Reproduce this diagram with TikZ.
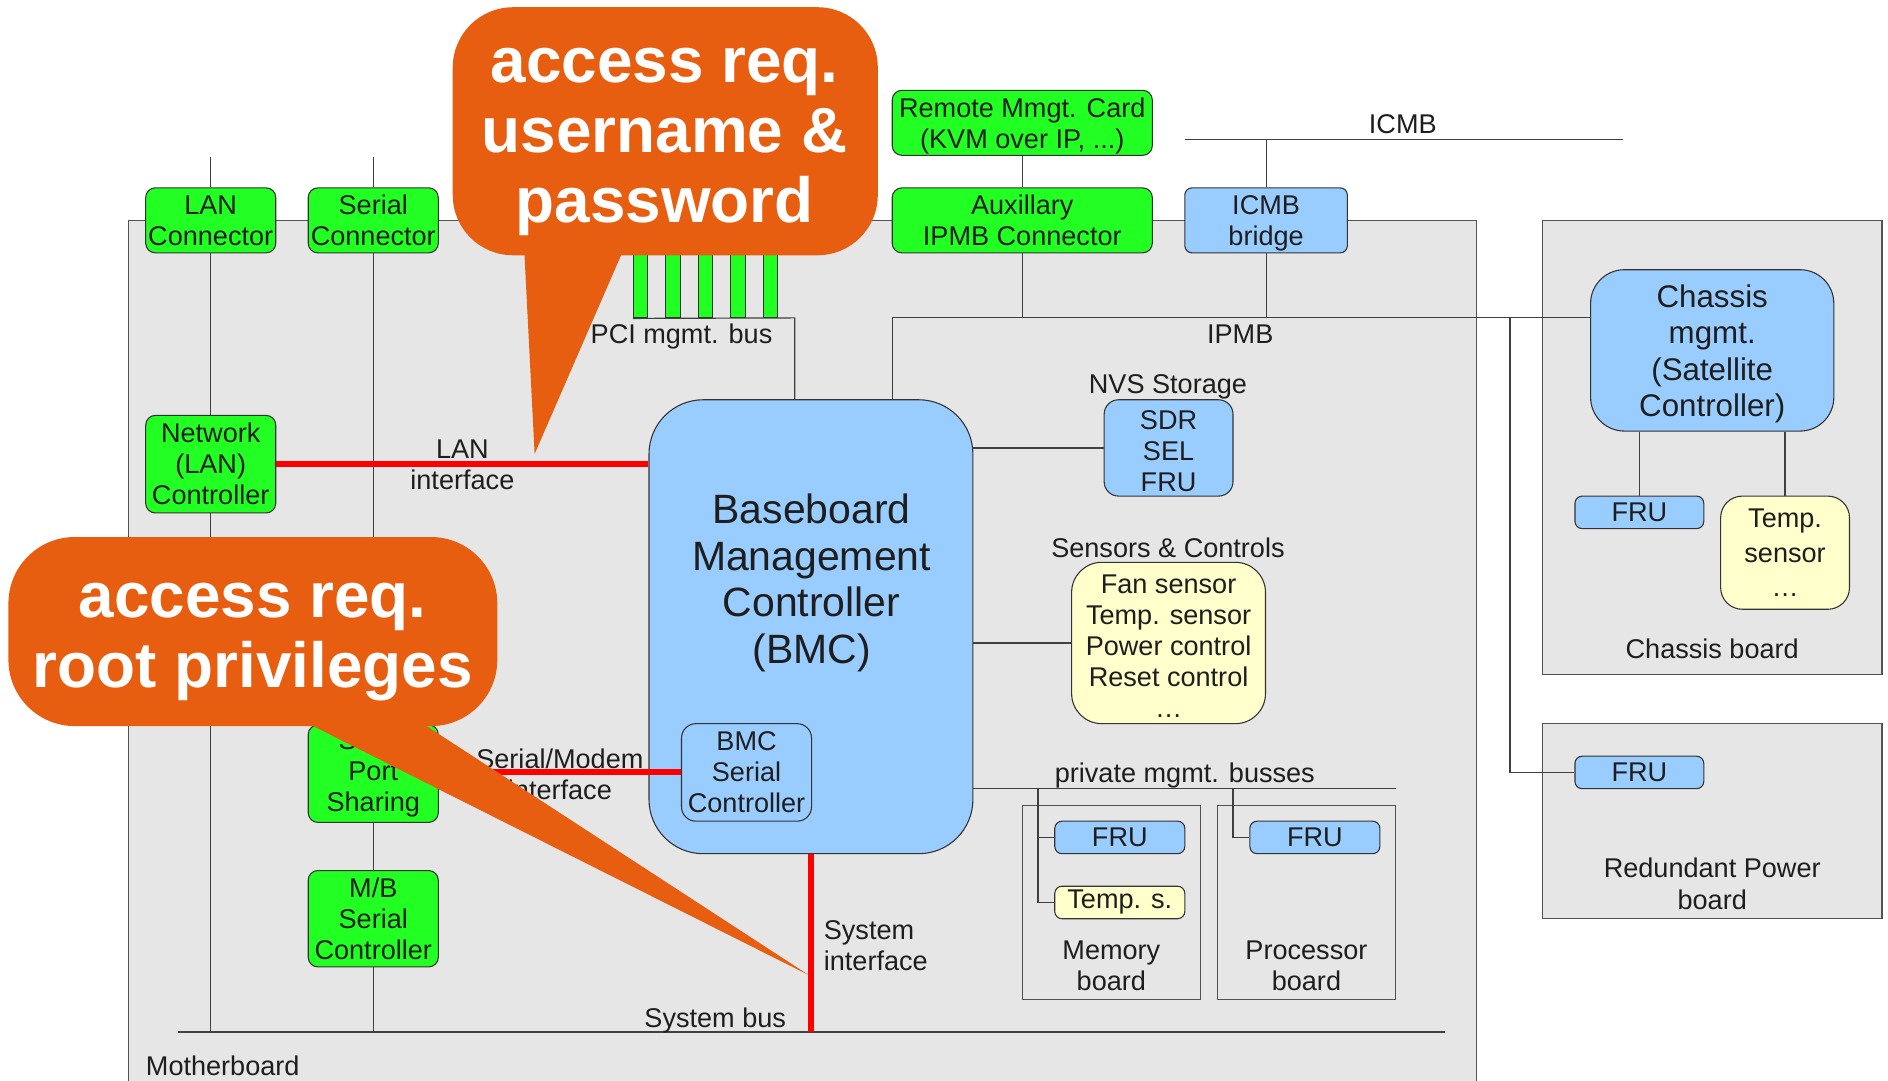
\documentclass[tikz,border=0pt]{standalone}
\usepackage{fontspec}
\setmainfont{Liberation Sans}
\definecolor{grn}{HTML}{22FF22}
\definecolor{blu}{HTML}{99CCFF}
\definecolor{ylw}{HTML}{FFFFCC}
\definecolor{brdfill}{HTML}{E6E6E6}
\definecolor{orng}{HTML}{E85E10}
\definecolor{edgec}{HTML}{333333}
\definecolor{wirec}{HTML}{404040}
\definecolor{ink}{HTML}{1E1E1E}
% strut that lowers a text block a little inside its box
\newcommand{\boxstrut}{\rule{0pt}{0.95em}}
\tikzset{
  txt/.style={font=\fontsize{22.5}{25.8}\selectfont, text=ink, align=center, inner sep=0pt},
  lbl/.style={txt, anchor=base},
  gbox/.style={txt, draw=edgec, fill=grn, rounded corners=8pt, line width=0.9pt},
  bbox/.style={txt, draw=edgec, fill=blu, rounded corners=6pt, line width=0.9pt},
  ybox/.style={txt, draw=edgec, fill=ylw, rounded corners=6pt, line width=0.9pt},
  board/.style={draw=edgec!85, fill=brdfill, line width=1pt},
  frame/.style={draw=edgec!85, line width=1pt},
  wire/.style={draw=wirec, line width=1pt},
  redw/.style={draw=red, line width=5pt},
  callout/.style={fill=orng},
  ctext/.style={font=\fontsize{53}{58}\selectfont\bfseries, text=white, align=center, inner sep=0pt},
}
\begin{document}
\begin{tikzpicture}[x=1pt, y=-1pt]
\useasboundingbox (0,0) rectangle (1568,897);

% boards
\draw[board] (107,183) rectangle (1226,920);
\draw[board] (1281,183) rectangle (1563,560);
\draw[board] (1281,601) rectangle (1563,763);
\draw[frame] (849,669) rectangle (997,830);
\draw[frame] (1011,669) rectangle (1159,830);

% PCI management bus connectors
\foreach \i/\x in {1/532,2/559,3/586,4/613,5/640}
  \node[draw=edgec, fill=grn, line width=0.9pt, minimum width=12pt, minimum height=70pt, inner sep=0pt] (bar\i) at (\x,229) {};

% green components
\node[gbox, minimum width=108pt, minimum height=54pt] (lanc) at (175,183) {LAN\\Connector};
\node[gbox, minimum width=108pt, minimum height=54pt] (serc) at (310,183) {Serial\\Connector};
\node[gbox, minimum width=108pt, minimum height=81pt] (netc) at (175,385.5) {Network\\(LAN)\\Controller};
\node[gbox, minimum width=108pt, minimum height=81pt] (sps) at (310,642.5) {Serial\\Port\\Sharing};
\node[gbox, minimum width=108pt, minimum height=80pt] (mbsc) at (310,763) {M/B\\Serial\\Controller};
\node[gbox, minimum width=216pt, minimum height=54pt] (rmc) at (849,102) {\boxstrut Remote Mmgt. Card\\(KVM over IP, ...)};
\node[gbox, minimum width=216pt, minimum height=54pt] (aux) at (849,183) {Auxillary\\IPMB Connector};

% blue / yellow components
\node[bbox, minimum width=135pt, minimum height=54pt] (icmbb) at (1051.5,183) {\boxstrut ICMB\\bridge};
\node[bbox, rounded corners=28pt, minimum width=202pt, minimum height=134pt,
      font=\fontsize{26}{30}\selectfont] (cmgmt) at (1422,291) {\boxstrut Chassis\\mgmt.\\(Satellite\\Controller)};
\node[bbox, minimum width=107pt, minimum height=27pt] (cfru) at (1361.5,425.5) {FRU};
\node[ybox, rounded corners=18pt, minimum width=107pt, minimum height=94pt,
      font=\fontsize{22.5}{29}\selectfont] (ctemp) at (1482.5,459) {Temp.\\sensor\\…};
\node[bbox, rounded corners=12pt, minimum width=107pt, minimum height=80pt] (nvs) at (970.5,372) {\boxstrut SDR\\SEL\\FRU};
\node[ybox, rounded corners=25pt, minimum width=161pt, minimum height=134pt] (sens) at (970.5,534) {\boxstrut Fan sensor\\Temp. sensor\\Power control\\Reset control\\…};
\node[bbox, rounded corners=45pt, minimum width=269pt, minimum height=377pt] (bmc) at (673.5,520.5) {};
\node[txt, font=\fontsize{34}{38.6}\selectfont] (bmclbl) at (674,484) {Baseboard\\Management\\Controller\\(BMC)};
\node[bbox, rounded corners=12pt, minimum width=108pt, minimum height=81pt] (bsc) at (620,641.5) {BMC\\Serial\\Controller};
\node[bbox, minimum width=107pt, minimum height=27pt] (rfru) at (1361.5,641.5) {FRU};
\node[bbox, minimum width=108pt, minimum height=27pt] (mfru) at (930,695.5) {FRU};
\node[ybox, minimum width=108pt, minimum height=27pt] (mtemp) at (930,749.5) {Temp. s.};
\node[bbox, minimum width=108pt, minimum height=27pt] (pfru) at (1092,695.5) {FRU};

% free ends of buses
\coordinate (lanTop) at (175,130);
\coordinate (serTop) at (310,130);
\coordinate (busL) at (148,857);
\coordinate (busR) at (1200,857);
\coordinate (pciC) at (660,264);
\coordinate (ipmbL) at (741,264);
\coordinate (icmbL) at (984,116);
\coordinate (icmbR) at (1348,116);
\coordinate (rpv) at (1254,264);
\coordinate (pbR) at (1159,655);
\coordinate (mbv) at (862,655);
\coordinate (pbv) at (1024,655);

% system bus and the connector columns
\draw[wire] (busL) -- (busR);
\draw[wire] (lanTop) -- (lanc.north);
\draw[wire] (lanc.south) -- (netc.north);
\draw[wire] (netc.south) -- (netc.south |- busL);
\draw[wire] (serTop) -- (serc.north);
\draw[wire] (serc.south) -- (sps.north);
\draw[wire] (sps.south) -- (mbsc.north);
\draw[wire] (mbsc.south) -- (mbsc.south |- busL);

% PCI management bus
\draw[wire] (bar1.south west) -- (pciC) -- (pciC |- bmc.north);

% IPMB
\draw[wire] (rmc.south) -- (aux.north);
\draw[wire] (aux.south) -- (aux.south |- ipmbL);
\draw[wire] (ipmbL |- bmc.north) -- (ipmbL) -- (ipmbL -| cmgmt.west);
\draw[wire] (icmbb.south) -- (icmbb.south |- ipmbL);
\draw[wire] (rpv) -- (rpv |- rfru.west) -- (rfru.west);
\draw[wire] (cfru.north |- cmgmt.south) -- (cfru.north);
\draw[wire] (ctemp.north |- cmgmt.south) -- (ctemp.north);

% ICMB
\draw[wire] (icmbL) -- (icmbR);
\draw[wire] (icmbb.north) -- (icmbb.north |- icmbL);

% BMC side links
\draw[wire] (nvs.west -| bmc.east) -- (nvs.west);
\draw[wire] (sens.west -| bmc.east) -- (sens.west);
\draw[wire] (pbR -| bmc.east) -- (pbR);
\draw[wire] (mbv) -- (mbv |- mtemp.west) -- (mtemp.west);
\draw[wire] (mbv |- mfru.west) -- (mfru.west);
\draw[wire] (pbv) -- (pbv |- pfru.west) -- (pfru.west);

% host interfaces
\draw[redw] (netc.east) -- (netc.east -| bmc.west);
\draw[redw] (bsc.west -| sps.east) -- (bsc.west);
\draw[redw] (bmc.south) -- (bmc.south |- busL);

% labels
\node[lbl] (lPCI) at (566,285) {PCI mgmt. bus};
\node[lbl] (lIPMB) at (1030,285) {IPMB};
\node[lbl] (lICMB) at (1165,111) {ICMB};
\node[lbl] (lNVS) at (970,327) {NVS Storage};
\node[lbl] (lSens) at (970,463) {Sensors \& Controls};
\node[lbl] (lPriv) at (984,650) {private mgmt. busses};
\node[lbl] (lSysBus) at (594,853) {System bus};
\node[txt] (lLAN) at (384,386) {LAN\\interface};
\node[txt] (lSer) at (465,643) {Serial/Modem\\interface};
\node[txt, align=left, anchor=west] (lSysIf) at (684,785) {System\\interface};
\node[lbl, anchor=base west] (lMB) at (121,893) {Motherboard};
\node[lbl] (lCB) at (1422,547) {Chassis board};
\node[txt] (lRP) at (1422,734) {Redundant Power\\board};
\node[txt] (lMem) at (923,802) {Memory\\board};
\node[txt] (lProc) at (1085,802) {Processor\\board};

% callouts
\fill[callout, rounded corners=50pt] (376,6) rectangle (729,212);
\fill[callout] (435,200) -- (444,377) -- (521,200) -- cycle;
\node[ctext] (c1) at (552,118) {access req.\\username \&\\password};

\fill[callout, rounded corners=55pt] (7,446) rectangle (413,603);
\fill[callout] (244,595) -- (672,810) -- (342,595) -- cycle;
\node[ctext] (c2) at (210,533) {access req.\\root privileges};
\end{tikzpicture}
\end{document}
